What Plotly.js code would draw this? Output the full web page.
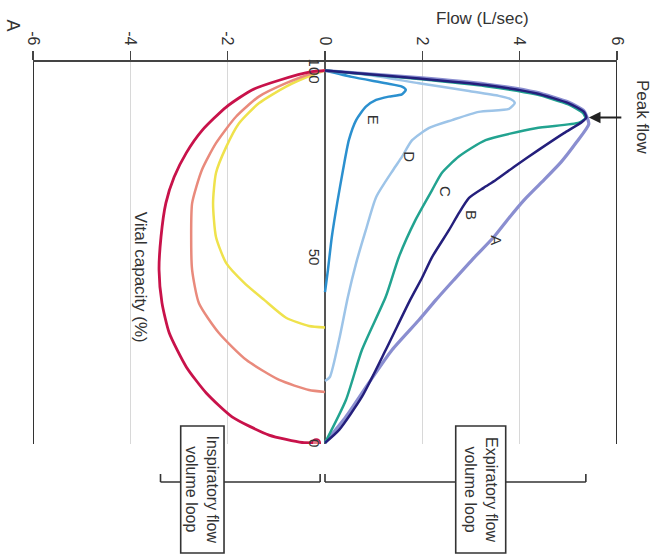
<!DOCTYPE html>
<html>
<head>
<meta charset="utf-8">
<script src="https://cdn.plot.ly/plotly-3.0.1.min.js"></script>
<style>html,body{margin:0;padding:0;background:#fff;}#chart{width:654px;height:555px;}</style>
</head>
<body>
<div id="chart"></div>
<script>
// Flow (L/sec) ticks
const flowTicks = [-6, -4, -2, 0, 2, 4, 6];
const flowTickText = ['-6', '-4', '-2', '0', '2', '4', '6'];
const volTicks = [100, 50, 0];
const volTickText = ['100', '50', '0'];

// Expiratory curves (flow L/s, volume % of vital capacity)
const aFlow = [0, 1.93, 3.30, 4.33, 5.01, 5.32, 5.38, 5.42, 5.17, 4.85, 4.46, 4.09, 3.78, 3.47, 3.06, 2.65, 2.28, 1.93, 1.38, 0.90, 0.43, 0];
const aVol  = [100, 98.1, 96.4, 94.2, 91.5, 89.2, 87.6, 85.6, 80.8, 75.4, 70.1, 65.2, 60.4, 55.3, 49.7, 43.8, 38.4, 33.0, 25.0, 16.1, 7.0, 0];

const bFlow = [0, 1.93, 3.30, 4.33, 5.01, 5.32, 5.37, 5.28, 4.91, 4.39, 3.88, 3.51, 3.26, 2.96, 2.75, 2.55, 2.20, 2.00, 1.75, 1.25, 0.76, 0.29, 0];
const bVol  = [100, 97.9, 96.1, 93.9, 91.2, 88.9, 87.4, 86.2, 83.2, 78.7, 74.1, 70.6, 68.5, 65.8, 61.7, 57.2, 49.9, 44.5, 38.4, 25.0, 12.4, 3.5, 0];

const cFlow = [0, 1.93, 3.30, 4.33, 5.00, 5.30, 5.35, 5.22, 4.33, 3.30, 2.75, 2.40, 2.20, 1.86, 1.52, 1.25, 0.76, 0.43, 0];
const cVol  = [100, 97.7, 95.8, 93.6, 90.9, 88.6, 87.2, 86.0, 84.5, 81.3, 76.9, 72.5, 67.9, 59.9, 50.0, 39.3, 25.0, 11.5, 0];

const dFlow = [0, 0.90, 1.93, 2.96, 3.57, 3.82, 3.90, 3.78, 3.16, 2.61, 2.14, 1.79, 1.58, 1.40, 1.05, 0.84, 0.64, 0.47, 0.29, 0.10, 0];
const dVol  = [100, 98.8, 96.6, 94.5, 93.2, 92.3, 91.3, 89.7, 88.9, 86.7, 84.6, 81.3, 76.8, 73.3, 66.0, 57.2, 48.3, 39.2, 27.7, 17.7, 16.6];

const eFlow = [0, 0.55, 1.25, 1.58, 1.66, 1.58, 1.31, 1.05, 0.84, 0.64, 0.49, 0.37, 0.25, 0.14, 0.06, 0];
const eVol  = [100, 98.3, 96.6, 95.7, 94.8, 93.6, 93.0, 92.1, 90.3, 86.7, 81.3, 73.3, 64.4, 55.3, 46.4, 40.5];

// Inspiratory loops
const redFlow = [0, -0.27, -0.94, -1.50, -2.03, -2.52, -2.85, -3.10, -3.27, -3.37, -3.41, -3.35, -3.20, -2.85, -2.44, -1.91, -1.15, -0.47, -0.18];
const redVol  = [100, 99.7, 97.4, 94.8, 90.2, 84.0, 77.9, 71.4, 64.4, 55.3, 46.4, 37.6, 29.5, 20.4, 13.4, 7.0, 2.1, 0.1, 0];

const salmonFlow = [0, -0.27, -0.80, -1.36, -1.83, -2.24, -2.53, -2.73, -2.75, -2.73, -2.59, -2.18, -1.62, -0.94, -0.33, 0];
const salmonVol  = [100, 99.2, 96.6, 93.0, 87.6, 80.5, 73.3, 64.4, 55.3, 46.4, 37.5, 29.5, 22.3, 16.9, 14.2, 13.7];

const yellowFlow = [0, -0.27, -0.80, -1.36, -1.77, -2.03, -2.24, -2.30, -2.24, -2.03, -1.66, -1.25, -0.80, -0.33, 0];
const yellowVol  = [100, 98.8, 95.7, 91.2, 85.8, 79.5, 72.5, 64.4, 55.3, 48.3, 43.0, 38.4, 33.6, 31.4, 31.0];

// Curve labels
const curveLabels = ['A', 'B', 'C', 'D', 'E'];
const labelFlow = [3.51, 3.02, 2.48, 1.72, 1.00];
const labelVol  = [54.5, 61.2, 67.5, 76.8, 86.9];

const peakFlow = 5.38, peakVol = 87.4;

const FONT = 'Liberation Sans, Arial, Helvetica, sans-serif';

function line(x, y, color, width) {
  return {x: x, y: y, type: 'scatter', mode: 'lines', hoverinfo: 'skip',
    line: {color: color, width: width, shape: 'spline', smoothing: 0.6}};
}

const traces = [
  line(yellowFlow, yellowVol, '#efe24c', 2.5),
  line(salmonFlow, salmonVol, '#e98a7c', 2.5),
  line(redFlow, redVol, '#c8124a', 2.8),
  {x: [redFlow[redFlow.length - 1]], y: [redVol[redVol.length - 1]], type: 'scatter', mode: 'markers', hoverinfo: 'skip',
    marker: {symbol: 'circle', size: 8, color: '#e47a8a', line: {color: '#c8124a', width: 1.5}}},
  line(eFlow, eVol, '#2b90cf', 2.5),
  line(dFlow, dVol, '#9dc4e8', 2.5),
  line(aFlow, aVol, '#8a8ed0', 3.2),
  line(cFlow, cVol, '#22a390', 2.5),
  line(bFlow, bVol, '#241f7c', 2.5)
];

function txt(o) {
  return Object.assign({showarrow: false, xanchor: 'center', yanchor: 'middle'}, o);
}

const annotations = [];
// y (volume) tick labels along the zero line
volTicks.forEach((v, i) => {
  annotations.push(txt({x: 0, y: v, xref: 'x', yref: 'y', text: volTickText[i],
    textangle: 90, xshift: -11,
    font: {family: FONT, size: 15, color: '#333'}}));
});
curveLabels.forEach((t, i) => {
  annotations.push(txt({x: labelFlow[i], y: labelVol[i], xref: 'x', yref: 'y', text: t,
    textangle: 90, font: {family: FONT, size: 15, color: '#333'}}));
});
annotations.push(
  txt({x: 0.769, y: 1.115, xref: 'paper', yref: 'paper', text: 'Flow (L/sec)',
    font: {family: FONT, size: 17, color: '#333'}}),
  txt({x: -0.034, y: 1.095, xref: 'paper', yref: 'paper', text: 'A', textangle: 90,
    font: {family: FONT, size: 18, color: '#333'}}),
  txt({x: 1.0445, y: 0.856, xref: 'paper', yref: 'paper', text: 'Peak flow', textangle: 90,
    font: {family: FONT, size: 17, color: '#333'}}),
  {x: peakFlow, y: peakVol, xref: 'x', yref: 'y', text: '', showarrow: true, ax: 36, ay: 0,
    arrowhead: 2, arrowsize: 1.3, arrowwidth: 1.8, arrowcolor: '#222', standoff: 2},
  txt({x: -3.80, y: 44.6, xref: 'x', yref: 'y', text: 'Vital capacity (%)', textangle: 90,
    font: {family: FONT, size: 17, color: '#333'}}),
  txt({x: -2.52, y: -0.12, xref: 'x', yref: 'paper', text: 'Inspiratory flow<br>volume loop',
    textangle: 90, font: {family: FONT, size: 16, color: '#333'}}),
  txt({x: 3.20, y: -0.12, xref: 'x', yref: 'paper', text: 'Expiratory flow<br>volume loop',
    textangle: 90, font: {family: FONT, size: 16, color: '#333'}})
);

const bracketY = -0.0995, bracketTop = -0.0785;
const inspL = -3.38, inspR = -0.1, expL = 0.0, expR = 5.36;
function seg(x0, y0, x1, y1, w) {
  return {type: 'line', xref: 'x', yref: 'paper', x0: x0, y0: y0, x1: x1, y1: y1,
    line: {color: '#333', width: w || 1.6}};
}
const shapes = [
  seg(-6, 0, -6, 1, 2), seg(6, 0, 6, 1, 2),
  seg(inspL, bracketY, inspR, bracketY), seg(inspL, bracketY, inspL, bracketTop), seg(inspR, bracketY, inspR, bracketTop),
  seg(expL, bracketY, expR, bracketY), seg(expL, bracketY, expL, bracketTop), seg(expR, bracketY, expR, bracketTop),
  {type: 'rect', xref: 'x', yref: 'paper', x0: -2.965, x1: -2.075, y0: -0.2853, y1: 0.0471,
    fillcolor: '#fff', line: {color: '#333', width: 1.6}},
  {type: 'rect', xref: 'x', yref: 'paper', x0: 2.686, x1: 3.713, y0: -0.2853, y1: 0.0471,
    fillcolor: '#fff', line: {color: '#333', width: 1.6}}
];

const layout = {
  width: 654, height: 555,
  margin: {l: 33, r: 37, t: 62, b: 111, pad: 0},
  paper_bgcolor: '#fff', plot_bgcolor: '#fff',
  showlegend: false,
  xaxis: {range: [-6, 6], side: 'top', tickvals: flowTicks, ticktext: flowTickText, tickangle: 90,
    ticks: 'outside', ticklen: 9, tickwidth: 1.5, tickcolor: '#444',
    showline: true, linecolor: '#444', linewidth: 2,
    showgrid: true, gridcolor: '#d8d8d8', gridwidth: 1,
    zeroline: true, zerolinecolor: '#555', zerolinewidth: 1.5,
    tickfont: {family: FONT, size: 16, color: '#333'}, fixedrange: true},
  yaxis: {range: [-0.3, 102.3], showgrid: false, zeroline: false, showticklabels: false,
    showline: false, ticks: '', fixedrange: true},
  annotations: annotations,
  shapes: shapes
};

Plotly.newPlot('chart', traces, layout, {staticPlot: true, displayModeBar: false});
</script>
</body>
</html>
